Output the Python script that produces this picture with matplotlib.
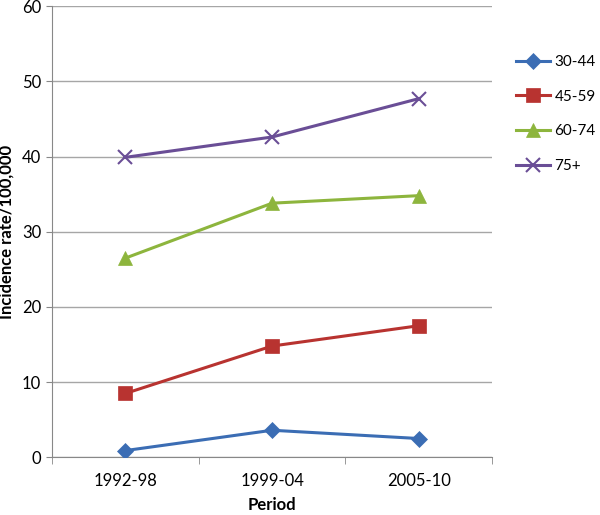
import matplotlib.pyplot as plt
import numpy as np

periods = ['1992-98', '1999-04', '2005-10']
age_groups = ['30-44', '45-59', '60-74', '75+']
rate_30_44 = [0.9, 3.6, 2.5]
rate_45_59 = [8.5, 14.8, 17.5]
rate_60_74 = [26.5, 33.8, 34.8]
rate_75_plus = [39.9, 42.6, 47.7]

series = [rate_30_44, rate_45_59, rate_60_74, rate_75_plus]
colors = ['#3B6DB4', '#B83330', '#8DB53D', '#6A4E96']
markers = ['D', 's', '^', 'x']
msizes = [8, 10, 10, 10]

plt.rcParams['font.family'] = ['Lato', 'DejaVu Sans']

fig = plt.figure(figsize=(6, 5.15), dpi=100)
ax = fig.add_axes([0.087, 0.112, 0.733, 0.876])

x = np.arange(len(periods))
for vals, lab, c, m, ms in zip(series, age_groups, colors, markers, msizes):
    ax.plot(x, vals, color=c, lw=2.2, marker=m, markersize=ms,
            markeredgewidth=1.5 if m == 'x' else 0.5, label=lab, zorder=3)

ax.set_xlim(-0.5, 2.5)
ax.set_ylim(0, 60)
ax.set_yticks(range(0, 61, 10))
ax.set_xticks(x)
ax.set_xticklabels(periods)
ax.set_xticks([-0.5, 0.5, 1.5, 2.5], minor=True)
ax.tick_params(axis='x', which='major', length=0, pad=11, labelsize=12)
ax.tick_params(axis='x', which='minor', length=5, color='#888888')
ax.tick_params(axis='y', length=4, color='#888888', labelsize=12, pad=4)

ax.grid(axis='y', color='#A6A6A6', lw=1)
ax.set_axisbelow(True)
for s in ['top', 'right']:
    ax.spines[s].set_visible(False)
for s in ['left', 'bottom']:
    ax.spines[s].set_color('#888888')

ax.set_xlabel('Period', fontweight='bold', fontsize=12, labelpad=6)
ax.set_ylabel('Incidence rate/100,000', fontweight='bold', fontsize=12, labelpad=5)

ax.legend(loc='upper left', bbox_to_anchor=(0.85, 0.905), bbox_transform=fig.transFigure,
          frameon=False, fontsize=11, handlelength=2.2, handletextpad=0.3,
          labelspacing=1.35, borderaxespad=0)

fig.savefig('out.png', dpi=100)
